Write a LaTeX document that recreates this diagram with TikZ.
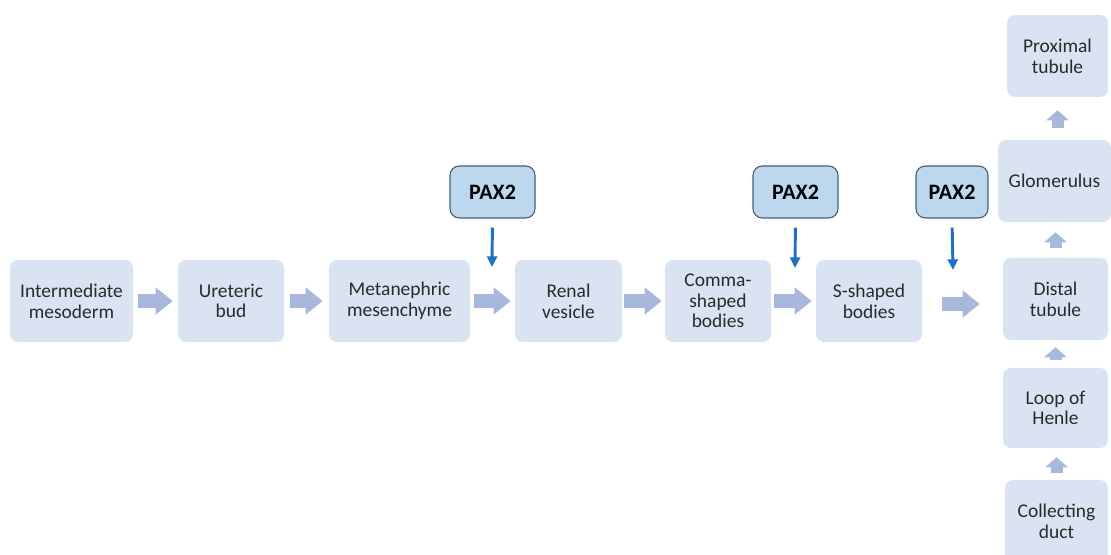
\documentclass[tikz,border=0pt]{standalone}
\usepackage{fontspec}
\setmainfont{Carlito}
\usetikzlibrary{arrows.meta}
\definecolor{boxfill}{HTML}{DAE3F1}
\definecolor{arrfill}{HTML}{A7B8DC}
\definecolor{paxfill}{HTML}{BDD7EE}
\definecolor{paxdraw}{HTML}{41607E}
\definecolor{pblue}{HTML}{1F6FC4}
\definecolor{txt}{HTML}{2A2A2A}
\begin{document}
\begin{tikzpicture}[x=0.75pt,y=-0.75pt,
  stage/.style={fill=boxfill, rounded corners=6pt, align=center, inner sep=0pt,
    text=txt, font=\fontsize{14.6}{15.5}\selectfont, minimum height=61.5pt},
  pax/.style={fill=paxfill, draw=paxdraw, line width=0.8pt, rounded corners=7pt,
    inner sep=0pt, text=black, font=\fontsize{16.5}{18}\selectfont\bfseries,
    minimum height=39pt},
  flow/.style={draw=arrfill, line width=10.5pt, -{Triangle[length=12.75pt,width=19.5pt]}},
  uflow/.style={draw=arrfill, line width=9pt, -{Triangle[length=7.5pt,width=16.5pt]}},
  reg/.style={draw=pblue, line width=2.2pt, -{Triangle[length=8pt,width=7.5pt]}, shorten <=6.75pt}
]
\useasboundingbox (0,0) rectangle (1111,555);
\clip (0,0) rectangle (1111,555);

% main row
\node[stage, minimum width={123*0.75pt}] (b1) at (71.5,301) {Intermediate\\mesoderm};
\node[stage, minimum width={106*0.75pt}] (b2) at (231,301) {Ureteric\\bud};
\node[stage, minimum width={141*0.75pt}] (b3) at (399.5,301) {Metanephric\\mesenchyme};
\node[stage, minimum width={107*0.75pt}] (b4) at (568.5,301) {Renal\\vesicle};
\node[stage, minimum width={106*0.75pt}] (b5) at (718,301) {Comma-\\shaped\\bodies};
\node[stage, minimum width={106*0.75pt}] (b6) at (869,301) {S-shaped\\bodies};

% right column
\node[stage, minimum width={101*0.75pt}] (pt) at (1057.5,56) {Proximal\\tubule};
\node[stage, minimum width={113*0.75pt}] (gl) at (1054.5,181) {Glomerulus};
\node[stage, minimum width={105*0.75pt}] (dt) at (1055.5,299) {Distal\\tubule};
\node[stage, minimum width={105*0.75pt}, minimum height=60pt] (lh) at (1055.5,408) {Loop of\\Henle};
\node[stage, minimum width={103*0.75pt}] (cd) at (1056.5,521) {Collecting\\duct};

% PAX2 boxes
\node[pax, minimum width={85*0.75pt}] (p1) at (492.5,192) {PAX2};
\node[pax, minimum width={85*0.75pt}] (p2) at (795.5,192) {PAX2};
\node[pax, minimum width={72*0.75pt}] (p3) at (952,192) {PAX2};

\coordinate (t1) at (492,267);
\coordinate (t2) at (795,268);
\coordinate (t3) at (953,270);

% flow arrows
\draw[flow] ([xshift=3.75pt]b1.east) -- ([xshift=-3.75pt]b2.west);
\draw[flow] ([xshift=4.5pt]b2.east) -- ([xshift=-4.5pt]b3.west);
\draw[flow] ([xshift=3pt]b3.east) -- ([xshift=-3pt]b4.west);
\draw[flow] ([xshift=1.5pt]b4.east) -- ([xshift=-2.25pt]b5.west);
\draw[flow] ([xshift=2.25pt]b5.east) -- ([xshift=-3pt]b6.west);
\draw[flow] ([xshift=15pt,yshift=-2.25pt]b6.east) -- ([xshift=-17.25pt,yshift=-3.75pt]dt.west);

% column arrows
\draw[uflow] ([yshift=9pt]gl.north -| pt.south) -- ([yshift=-9.75pt]pt.south);
\draw[uflow] ([yshift=7.5pt]dt.north) -- ([yshift=-7.5pt]dt.north |- gl.south);
\draw[uflow] ([yshift=6pt]lh.north) -- ([yshift=-5.25pt]lh.north |- dt.south);
\draw[uflow] ([yshift=5.25pt]cd.north) -- ([yshift=-6.75pt]cd.north |- lh.south);

% PAX2 arrows
\draw[reg] (p1.south) -- (t1);
\draw[reg] (p2.south) -- (t2);
\draw[reg] (p3.south) -- (t3);
\end{tikzpicture}
\end{document}
